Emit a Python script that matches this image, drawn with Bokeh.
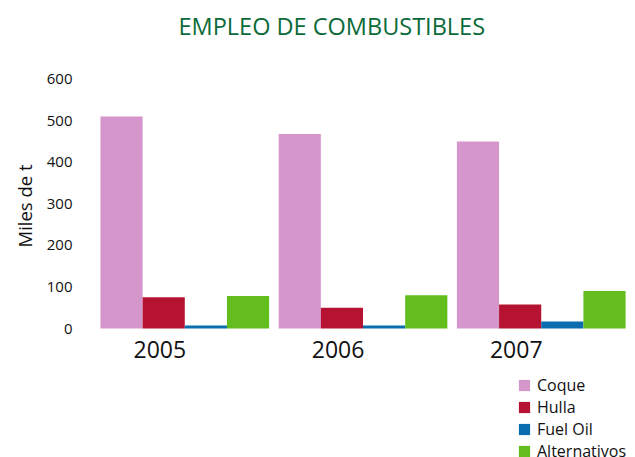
from bokeh.plotting import figure
from bokeh.models import ColumnDataSource, Legend, LegendItem, Title, FixedTicker, Range1d
from bokeh.transform import dodge
from bokeh.embed import file_html
from bokeh.resources import INLINE

years = ["2005", "2006", "2007"]
coque = [510, 468, 450]
hulla = [75, 50, 58]
fuel_oil = [7, 7, 17]
alternativos = [78, 80, 90]
y_ticks = [0, 100, 200, 300, 400, 500, 600]

series_names = ["Coque", "Hulla", "Fuel Oil", "Alternativos"]
series_cols = ["coque", "hulla", "fuel_oil", "alternativos"]
colors = ["#D596CB", "#B51331", "#0A6DAE", "#62BD1D"]

FONT = "Open Sans"
W = 0.2366        # bar width (x units)
SHIFT = 0.14      # bar groups sit a little right of the year labels

src = ColumnDataSource(dict(
    x=list(range(len(years))),
    coque=coque, hulla=hulla, fuel_oil=fuel_oil, alternativos=alternativos,
))

p = figure(
    width=635, height=457,
    x_range=Range1d(-0.389, 2.624), y_range=Range1d(-310.2, 675.8),
    output_backend="svg", toolbar_location=None,
    min_border_left=90, min_border_right=8, min_border_top=47, min_border_bottom=0,
)
p.outline_line_color = None
p.xgrid.visible = False
p.ygrid.visible = False

p.title.text = "EMPLEO DE COMBUSTIBLES"
p.title.text_font = FONT
p.title.text_font_size = "23.5px"
p.title.text_font_style = "normal"
p.title.text_color = "#0B6A3A"
p.title.align = "left"
p.title.offset = 88
p.title.vertical_align = "bottom"
p.title.standoff = 12

items = []
for i, (name, col, c) in enumerate(zip(series_names, series_cols, colors)):
    r = p.vbar(x=dodge("x", SHIFT + (i - 1.5) * W), top=col, width=W, bottom=0,
               source=src, fill_color=c, line_color=None)
    items.append(LegendItem(label=name, renderers=[r]))

p.xaxis.fixed_location = 0
p.xaxis.ticker = FixedTicker(ticks=list(range(len(years))))
p.xaxis.major_label_overrides = {i: y for i, y in enumerate(years)}
p.xaxis.major_label_text_font = FONT
p.xaxis.major_label_text_font_size = "23px"
p.xaxis.major_label_text_color = "#111111"
p.xaxis.major_label_standoff = 6
p.xaxis.axis_line_color = None
p.xaxis.major_tick_line_color = None
p.xaxis.minor_tick_line_color = None

p.yaxis.ticker = FixedTicker(ticks=y_ticks)
p.yaxis.major_label_text_font = FONT
p.yaxis.major_label_text_font_size = "15px"
p.yaxis.major_label_text_color = "#111111"
p.yaxis.major_label_standoff = 12
p.yaxis.axis_line_color = None
p.yaxis.major_tick_line_color = None
p.yaxis.minor_tick_line_color = None

ylab = Title(text="Miles de t", align="left", offset=210, standoff=14, text_font=FONT,
             text_font_size="18.5px", text_font_style="normal", text_color="#111111")
p.add_layout(ylab, "left")

legend = Legend(items=items, location=(427, -5), orientation="vertical",
                label_text_font=FONT, label_text_font_size="16px",
                label_text_color="#111111",
                glyph_width=14, glyph_height=14, label_height=21,
                spacing=0, padding=0, margin=0, label_standoff=6,
                border_line_color=None, background_fill_alpha=0)
p.add_layout(legend, "center")

open("out.html", "w").write(file_html(p, INLINE))
